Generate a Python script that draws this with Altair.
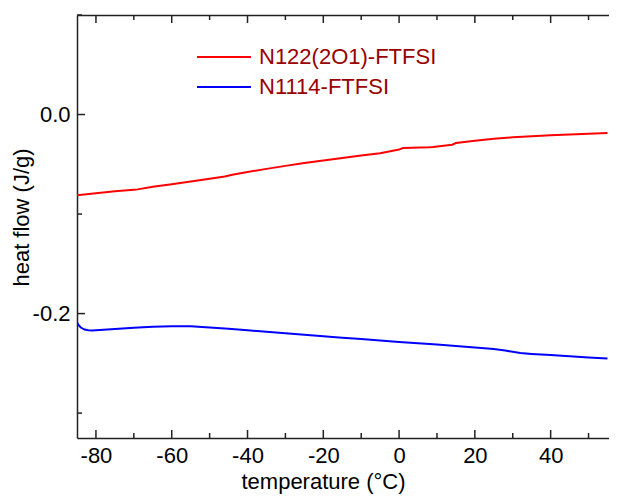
import altair as alt
import pandas as pd

series_names = ["N122(2O1)-FTFSI", "N1114-FTFSI"]
series_colors = ["#ff0000", "#0000ff"]

red_t = [-85, -80, -75, -70, -69, -65, -60, -55, -50, -46, -44, -40, -35, -30, -25,
         -20, -15, -10, -5, 0, 1, 8, 9, 14, 15, 20, 25, 30, 35, 40, 45, 50, 55]
red_h = [-0.0810, -0.0790, -0.0772, -0.0755, -0.0752, -0.0726, -0.0700, -0.0672,
         -0.0645, -0.0622, -0.0605, -0.0577, -0.0546, -0.0516, -0.0488, -0.0462,
         -0.0436, -0.0411, -0.0388, -0.0352, -0.0337, -0.0329, -0.0326, -0.0303,
         -0.0287, -0.0263, -0.0243, -0.0229, -0.0218, -0.0208, -0.0200, -0.0193,
         -0.0186]

blue_t = [-85, -84.5, -84, -83, -82, -81, -80, -75, -70, -65, -60, -55, -50, -45,
          -40, -35, -30, -25, -20, -15, -10, -5, 0, 5, 10, 15, 20, 25, 28, 32, 35,
          40, 45, 50, 55]
blue_h = [-0.2090, -0.2118, -0.2140, -0.2160, -0.2168, -0.2170, -0.2168, -0.2155,
          -0.2143, -0.2133, -0.2128, -0.2128, -0.2140, -0.2153, -0.2168, -0.2183,
          -0.2198, -0.2213, -0.2228, -0.2243, -0.2256, -0.2270, -0.2285, -0.2298,
          -0.2311, -0.2325, -0.2340, -0.2356, -0.2372, -0.2396, -0.2405, -0.2416,
          -0.2428, -0.2440, -0.2452]

x_major = [-80, -60, -40, -20, 0, 20, 40]
x_minor = [-70, -50, -30, -10, 10, 30, 50]
y_major = [-0.2, 0.0]
y_minor = [-0.3, -0.1, 0.1]

x_domain = [-85, 55.4]
y_domain = [-0.325, 0.1]

df = pd.concat([
    pd.DataFrame({"t": red_t, "h": red_h, "series": series_names[0]}),
    pd.DataFrame({"t": blue_t, "h": blue_h, "series": series_names[1]}),
], ignore_index=True)

FONT = "Liberation Sans"
AX = "#222222"
W, H = 532, 423
MAJ, MIN = 8, 5
xs = alt.Scale(domain=x_domain, nice=False, zero=False)
ys = alt.Scale(domain=y_domain, nice=False, zero=False)

main_x = alt.Axis(orient="bottom", values=x_major, ticks=False, tickSize=0,
                  domain=True, domainColor=AX, domainWidth=1.5, grid=False,
                  labelExpr="toString(datum.value)", labelFontSize=22,
                  labelColor="#000", labelPadding=7, labelFont=FONT,
                  title="temperature (°C)", titleFontSize=22, titleFont=FONT,
                  titleFontWeight="normal", titleColor="#000",
                  titleX=246, titleY=50, titleBaseline="alphabetic",
                  titleAnchor="middle", titleAlign="center")
main_y = alt.Axis(orient="left", values=y_major, ticks=False, tickSize=0,
                  domain=True, domainColor=AX, domainWidth=1.5, grid=False,
                  labelExpr="datum.value == 0 ? '0.0' : toString(datum.value)",
                  labelFontSize=22, labelColor="#000", labelPadding=7,
                  labelFont=FONT,
                  title="heat flow (J/g)", titleFontSize=22, titleFont=FONT,
                  titleFontWeight="normal", titleColor="#000",
                  titleX=-49, titleY=202, titleAngle=-90,
                  titleBaseline="alphabetic", titleAlign="center")

lines = alt.Chart(df).mark_line(strokeWidth=2, clip=True).encode(
    x=alt.X("t:Q", scale=xs, axis=main_x),
    y=alt.Y("h:Q", scale=ys, axis=main_y),
    color=alt.Color("series:N",
                    scale=alt.Scale(domain=series_names, range=series_colors),
                    legend=alt.Legend(orient="none", legendX=119, legendY=27,
                                      title=None, symbolType="stroke",
                                      symbolSize=2916, symbolStrokeWidth=2,
                                      clipHeight=30, rowPadding=0, padding=0,
                                      labelFontSize=22, labelFont=FONT,
                                      labelLimit=400,
                                      labelColor="#990000", labelOffset=7)),
)

top_domain = alt.Axis(orient="top", values=x_major, ticks=False, tickSize=0,
                      domain=True, domainColor=AX, domainWidth=1.5,
                      labels=False, grid=False, title=None)
top_layer = alt.Chart(df).mark_line(opacity=0).encode(
    x=alt.X("t:Q", scale=xs, axis=top_domain),
    y=alt.Y("h:Q", scale=ys, axis=None),
    detail="series:N",
)


def x_ticks(values, size):
    d = alt.Chart(pd.DataFrame({"v": values}))
    bottom = d.mark_rule(color=AX, strokeWidth=1.5).encode(
        x=alt.X("v:Q", scale=xs, axis=None),
        y=alt.value(H), y2=alt.value(H - size))
    top = d.mark_rule(color=AX, strokeWidth=1.5).encode(
        x=alt.X("v:Q", scale=xs, axis=None),
        y=alt.value(0), y2=alt.value(size))
    return [bottom, top]


def y_ticks(values, size):
    d = alt.Chart(pd.DataFrame({"v": values}))
    return [d.mark_rule(color=AX, strokeWidth=1.5).encode(
        y=alt.Y("v:Q", scale=ys, axis=None),
        x=alt.value(0), x2=alt.value(size))]


chart = alt.layer(
    lines, top_layer,
    *x_ticks(x_major, MAJ), *x_ticks(x_minor, MIN),
    *y_ticks(y_major, MAJ), *y_ticks(y_minor, MIN),
).resolve_axis(x="independent", y="independent").properties(
    width=W, height=H,
    autosize=alt.AutoSizeParams(type="none"),
    padding={"left": 69, "top": 7, "right": 0, "bottom": 58},
).configure_view(stroke=None).configure(font=FONT)

chart.save("out.html", embed_options={"renderer": "svg", "actions": False})
